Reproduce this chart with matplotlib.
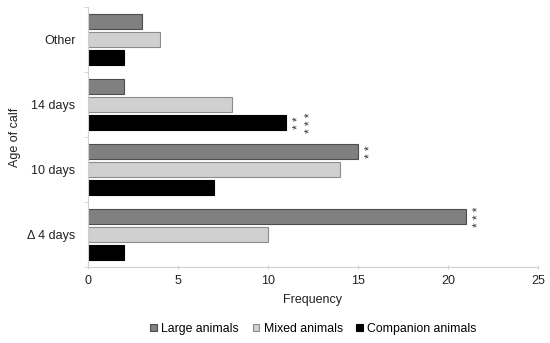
import matplotlib
matplotlib.use("Agg")
import matplotlib.pyplot as plt
import numpy as np

plt.rcParams['font.family'] = ['Liberation Sans', 'DejaVu Sans']

categories = ["Δ 4 days", "10 days", "14 days", "Other"]
large = [21, 15, 2, 3]
mixed = [10, 14, 8, 4]
companion = [2, 7, 11, 2]
series_names = ["Large animals", "Mixed animals", "Companion animals"]

# significance markers: (category index, series index, text list)
sig = [(0, 0, ["* * *"]), (1, 0, ["* *"]), (2, 2, ["* *", "* * *"])]

fig = plt.figure(figsize=(5.5, 3.43), dpi=100)
ax = fig.add_axes([0.16, 0.2216, 0.818, 0.758])

y = np.arange(len(categories))
off = 0.277
h = 0.245
ax.barh(y + off, large, height=h, color="#808080", edgecolor="#4d4d4d", linewidth=0.8, label=series_names[0])
ax.barh(y, mixed, height=h, color="#d0d0d0", edgecolor="#8c8c8c", linewidth=0.8, label=series_names[1])
ax.barh(y - off, companion, height=h, color="#000000", edgecolor="#000000", linewidth=0.8, label=series_names[2])

vals = [large, mixed, companion]
offs = [off, 0, -off]
for ci, si, texts in sig:
    v = vals[si][ci]
    for k, t in enumerate(texts):
        ax.text(v + 0.72 + k * 0.68, y[ci] + offs[si], t, rotation=90, ha="center", va="center",
                fontsize=8.5, color="#333333")

ax.set_xlim(0, 25)
ax.set_ylim(-0.5, 3.5)
ax.set_xticks([0, 5, 10, 15, 20, 25])
ax.set_yticks(y)
ax.set_yticklabels(categories)
ax.set_yticks(np.arange(-0.5, 4, 1), minor=True)
ax.tick_params(axis='y', which='major', length=0, pad=9, labelsize=9.0, labelcolor="#222222")
ax.tick_params(axis='y', which='minor', length=3, color="#d0d0d0", direction='out')
ax.tick_params(axis='x', length=3, color="#d0d0d0", direction='inout', labelsize=9.0, labelcolor="#222222", pad=4)

for s in ["top", "right"]:
    ax.spines[s].set_visible(False)
for s in ["left", "bottom"]:
    ax.spines[s].set_color("#d0d0d0")
    ax.spines[s].set_linewidth(0.8)

ax.set_xlabel("Frequency", fontsize=9.0, color="#222222", labelpad=5)
ax.set_ylabel("Age of calf", fontsize=9.0, color="#222222")
ax.yaxis.set_label_coords(-0.15, 0.5)

handles, labels = ax.get_legend_handles_labels()
fig.legend(handles, labels, loc="center", bbox_to_anchor=(0.57, 0.042), ncol=3, frameon=False,
           fontsize=8.8, handlelength=0.55, handleheight=0.55, handletextpad=0.35, columnspacing=1.1)

fig.savefig("out.png", dpi=100)
